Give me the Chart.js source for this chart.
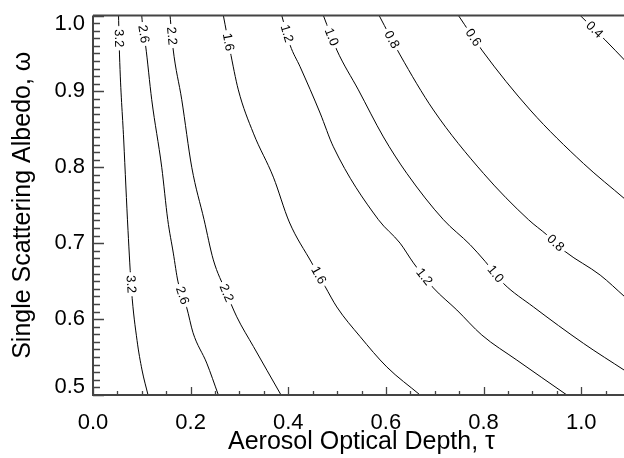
<!DOCTYPE html>
<html><head><meta charset="utf-8">
<script src="https://cdn.jsdelivr.net/npm/chart.js@4.4.0/dist/chart.umd.min.js"></script>
<style>html,body{margin:0;padding:0;background:#fff;overflow:hidden;}</style>
</head><body>
<canvas id="c" width="630" height="458" style="display:block"></canvas>
<script>
// Tick values
const xTicks = [0.0, 0.2, 0.4, 0.6, 0.8, 1.0];
const yTicks = [0.5, 0.6, 0.7, 0.8, 0.9, 1.0];

// Contour levels
const levels = ['3.2', '2.6', '2.2', '1.6', '1.2', '1.0', '0.8', '0.6', '0.4'];

// Contour lines: [tau, omega]
const line_3_2 = [[0.0523,1.0],[0.0543,0.948],[0.0629,0.836],[0.0717,0.717],[0.0789,0.638],[0.0902,0.572],[0.1004,0.533],[0.1127,0.5]];
const line_2_6 = [[0.0998,1.0],[0.1025,0.981],[0.1076,0.961],[0.1203,0.889],[0.1408,0.800],[0.1531,0.731],[0.1645,0.687],[0.1742,0.649],[0.192,0.615],[0.2049,0.582],[0.233,0.542],[0.2568,0.5]];
const line_2_2 = [[0.1578,1.0],[0.1639,0.957],[0.1818,0.889],[0.2023,0.800],[0.2275,0.731],[0.2465,0.678],[0.2725,0.636],[0.2945,0.603],[0.3285,0.564],[0.3852,0.5]];
const line_1_6 = [[0.267,1.0],[0.2807,0.954],[0.2977,0.902],[0.3285,0.845],[0.3695,0.787],[0.4020,0.728],[0.4482,0.674],[0.4754,0.643],[0.4994,0.616],[0.5471,0.577],[0.6018,0.537],[0.6701,0.5]];
const line_1_2 = [[0.3867,1.0],[0.4037,0.961],[0.4242,0.9325],[0.4652,0.8715],[0.4924,0.827],[0.5846,0.731],[0.6291,0.700],[0.6564,0.674],[0.6973,0.641],[0.7453,0.612],[0.7965,0.579],[0.8682,0.546],[0.9707,0.5]];
const line_1_0 = [[0.4719,1.0],[0.4994,0.9545],[0.5436,0.902],[0.5949,0.840],[0.6428,0.792],[0.7178,0.731],[0.7725,0.698],[0.8033,0.676],[0.8408,0.647],[0.9023,0.616],[1.0047,0.568],[1.09,0.532]];
const line_0_8 = [[0.5861,1.0],[0.6291,0.948],[0.6973,0.8755],[0.7998,0.792],[0.892,0.731],[0.9297,0.711],[0.9672,0.689],[1.0389,0.658],[1.09,0.629]];
const line_0_6 = [[0.7486,1.0],[0.7965,0.9545],[0.8955,0.8755],[1.0047,0.805],[1.09,0.758]];
const line_0_4 = [[0.998,1.0],[1.0492,0.9677],[1.09,0.9405]];

// Label anchor positions on each contour: [tau, omega]
const labels_3_2 = [[0.0527,0.970],[0.0789,0.646]];
const labels_2_6 = [[0.1035,0.9756],[0.178,0.630]];
const labels_2_2 = [[0.1609,0.973],[0.2725,0.634]];
const labels_1_6 = [[0.277,0.965],[0.46,0.657]];
const labels_1_2 = [[0.3955,0.976],[0.678,0.6555]];
const labels_1_0 = [[0.4816,0.970],[0.8238,0.659]];
const labels_0_8 = [[0.6107,0.9677],[0.9467,0.6996]];
const labels_0_6 = [[0.7766,0.970]];
const labels_0_4 = [[1.0287,0.982]];

const lines = [line_3_2, line_2_6, line_2_2, line_1_6, line_1_2, line_1_0, line_0_8, line_0_6, line_0_4];
const labelSets = [labels_3_2, labels_2_6, labels_2_2, labels_1_6, labels_1_2, labels_1_0, labels_0_8, labels_0_6, labels_0_4];

const FONT = '"Liberation Sans", Arial, Helvetica, sans-serif';
const AXIS_COLOR = '#444';

const axisPlugin = {
  id: 'idlAxes',
  afterDatasetsDraw(chart) {
    const ctx = chart.ctx;
    const xs = chart.scales.x, ys = chart.scales.y;
    const a = chart.chartArea;
    ctx.save();
    // contour labels
    ctx.font = '13px ' + FONT;
    ctx.textAlign = 'center';
    ctx.textBaseline = 'middle';
    lines.forEach((ln, k) => {
      const pts = ln.map(p => [xs.getPixelForValue(p[0]), ys.getPixelForValue(p[1])]);
      labelSets[k].forEach(lp => {
        const px = xs.getPixelForValue(lp[0]), py = ys.getPixelForValue(lp[1]);
        let best = null;
        for (let i = 0; i < pts.length - 1; i++) {
          const [x1, y1] = pts[i], [x2, y2] = pts[i + 1];
          const dx = x2 - x1, dy = y2 - y1;
          let t = ((px - x1) * dx + (py - y1) * dy) / (dx * dx + dy * dy);
          t = Math.max(0, Math.min(1, t));
          const qx = x1 + t * dx, qy = y1 + t * dy;
          const d = (qx - px) ** 2 + (qy - py) ** 2;
          if (!best || d < best.d) best = {d, qx, qy, ang: Math.atan2(dy, dx)};
        }
        const txt = levels[k];
        const w = ctx.measureText(txt).width;
        ctx.save();
        ctx.translate(best.qx, best.qy);
        ctx.rotate(best.ang);
        ctx.fillStyle = '#fff';
        ctx.fillRect(-w / 2 - 3, -5, w + 6, 10);
        ctx.fillStyle = '#000';
        ctx.fillText(txt, 0, 0.5);
        ctx.restore();
      });
    });
    // axis frame (left, bottom, top)
    ctx.strokeStyle = AXIS_COLOR;
    ctx.lineWidth = 2;
    ctx.beginPath();
    ctx.moveTo(a.left, a.top); ctx.lineTo(a.left, a.bottom); ctx.lineTo(a.right, a.bottom);
    ctx.moveTo(a.left, a.top); ctx.lineTo(a.right, a.top);
    ctx.stroke();
    // inward ticks
    ctx.lineWidth = 1.3;
    ctx.beginPath();
    for (let i = 0; i <= 22; i++) {
      const v = i * 0.05;
      const x = Math.round(xs.getPixelForValue(v)) + 0.5;
      const len = (i % 4 === 0) ? 8 : 4;
      ctx.moveTo(x, a.bottom); ctx.lineTo(x, a.bottom - len);
    }
    for (let i = 0; i <= 50; i++) {
      const v = 0.5 + i * 0.01;
      const y = Math.round(ys.getPixelForValue(v)) + 0.5;
      const len = (i % 10 === 0) ? 11 : 7;
      ctx.moveTo(a.left, y); ctx.lineTo(a.left + len, y);
    }
    ctx.stroke();
    ctx.restore();
  }
};

new Chart(document.getElementById('c'), {
  type: 'scatter',
  data: {
    datasets: lines.map((ln, k) => ({
      label: levels[k],
      data: ln.map(p => ({x: p[0], y: p[1]})),
      showLine: true,
      borderColor: '#000',
      borderWidth: 1,
      pointRadius: 0,
      pointHoverRadius: 0,
      cubicInterpolationMode: 'monotone',
      fill: false
    }))
  },
  options: {
    responsive: false,
    animation: false,
    devicePixelRatio: 1,
    layout: {padding: {top: 15.5, right: 0, bottom: 0, left: 0}},
    plugins: {legend: {display: false}, tooltip: {enabled: false}},
    scales: {
      x: {
        type: 'linear', min: 0, max: 1.1,
        afterBuildTicks: s => { s.ticks = xTicks.map(v => ({value: v})); },
        afterFit: s => { s.height = 63; s.paddingLeft = 0; s.paddingRight = 0; },
        grid: {display: false, drawTicks: false},
        border: {display: false},
        ticks: {padding: 15, color: '#000', font: {family: FONT, size: 22}, maxRotation: 0, autoSkip: false,
                callback: v => Number(v).toFixed(1)},
        title: {display: true, text: 'Aerosol Optical Depth, τ', color: '#000',
                font: {family: FONT, size: 25}, padding: {top: 0, bottom: 1}}
      },
      y: {
        type: 'linear', min: 0.5, max: 1.0,
        afterBuildTicks: s => { s.ticks = yTicks.map(v => ({value: v})); },
        afterFit: s => { s.width = 93; s.paddingTop = 0; s.paddingBottom = 0; },
        grid: {display: false, drawTicks: false},
        border: {display: false},
        ticks: {padding: 8, color: '#000', font: {family: FONT, size: 22, lineHeight: 0.73}, autoSkip: false,
                callback: v => {
                  const t = Number(v).toFixed(1);
                  if (v >= 0.999) return ['', t];
                  if (v <= 0.501) return [t, ''];
                  return t;
                }},
        title: {display: true, text: 'Single Scattering Albedo, ω', color: '#000',
                font: {family: FONT, size: 25}, padding: {top: 8, bottom: 0}}
      }
    }
  },
  plugins: [axisPlugin]
});
</script>
</body></html>
